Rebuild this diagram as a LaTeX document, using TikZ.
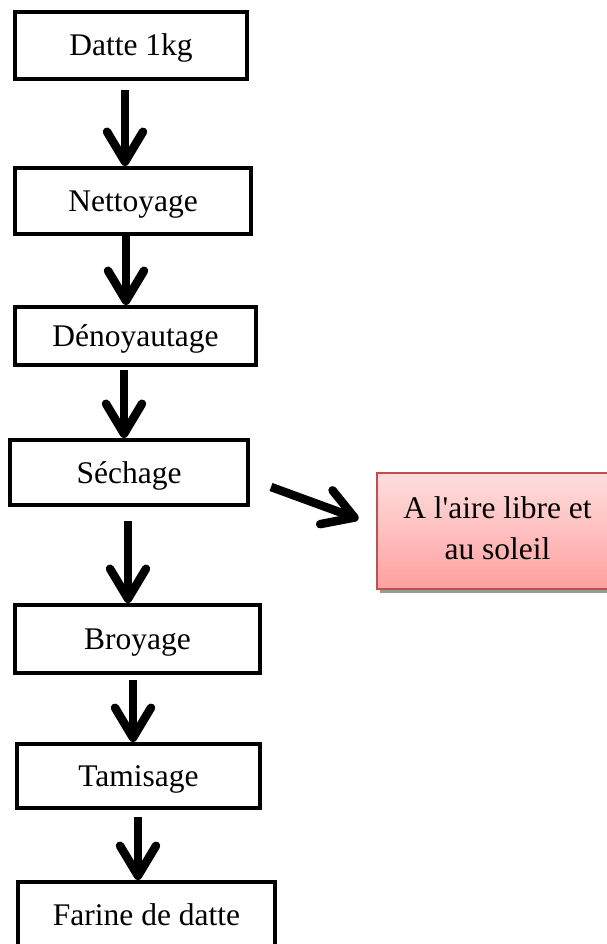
\documentclass[tikz,border=0pt]{standalone}
\usepackage{fontspec}
\setmainfont{Liberation Serif}
\usetikzlibrary{arrows.meta,shadows}
\definecolor{notetop}{RGB}{255,222,222}
\definecolor{notebottom}{RGB}{255,160,160}
\definecolor{noteedge}{RGB}{192,80,77}
\newcommand{\boxfont}{\fontsize{31.5}{40}\selectfont}
\begin{document}
\begin{tikzpicture}[x=1pt,y=-1pt,
  stepbox/.style={draw, line width=4pt, rectangle, inner sep=0pt, fill=white,
    font=\boxfont, text height=25pt, text depth=4pt},
  notebox/.style={draw=noteedge, line width=2pt, rectangle, inner sep=0pt,
    top color=notetop, bottom color=notebottom, font=\boxfont, align=center,
    drop shadow={shadow xshift=3pt, shadow yshift=-3.5pt, fill=black!40, opacity=1}},
  flow/.style={line width=8.5pt,
    -{Straight Barb[length=30pt,width=36pt,line cap=round,line join=round]},
    preaction={draw=black!40, transform canvas={xshift=2.5pt,yshift=-2.5pt}}},
]
\useasboundingbox (0,0) rectangle (606,944);

% process steps
\node[stepbox, minimum width=232pt, minimum height=67pt] (n1) at (131,45.5) {Datte 1kg};
\node[stepbox, minimum width=236pt, minimum height=66pt] (n2) at (133,201) {Nettoyage};
\node[stepbox, minimum width=241pt, minimum height=58pt] (n3) at (135.5,336) {Dénoyautage};
\node[stepbox, minimum width=238pt, minimum height=65pt] (n4) at (129,472.5) {Séchage};
\node[stepbox, minimum width=245pt, minimum height=68pt] (n5) at (137.5,639) {Broyage};
\node[stepbox, minimum width=243pt, minimum height=64pt] (n6) at (138.5,776) {Tamisage};
\node[stepbox, minimum width=257pt, minimum height=66pt] (n7) at (146.5,915) {Farine de datte};

% drying condition (runs past the right edge of the page)
\node[notebox, minimum width=270pt, minimum height=116pt] (r) at (511.5,531)
  {\hspace*{-28pt}\raisebox{12pt}{\begin{tabular}{@{}c@{}}A l\textquotesingle aire libre et\\[1pt] au soleil\end{tabular}}};

% connectors
\draw[flow, shorten <=9pt] ([xshift=-6pt]n1.south) -- ([xshift=-8pt]n2.north);
\draw[flow] ([xshift=-7pt]n2.south) -- ([xshift=-9.5pt]n3.north);
\draw[flow, shorten <=3pt] ([xshift=-11.5pt]n3.south) -- ([xshift=-5pt]n4.north);
\draw[flow, shorten <=14pt] ([xshift=-1pt]n4.south) -- ([xshift=-9.5pt]n5.north);
\draw[flow, shorten <=5pt] ([xshift=-4.5pt]n5.south) -- ([xshift=-5.5pt]n6.north);
\draw[flow, shorten <=7pt] ([xshift=-0.5pt]n6.south) -- ([xshift=-8.5pt]n7.north);
\draw[flow] ([xshift=21pt,yshift=-14.5pt]n4.east) -- ([xshift=-17pt,yshift=12pt]r.west);
\end{tikzpicture}
\end{document}
